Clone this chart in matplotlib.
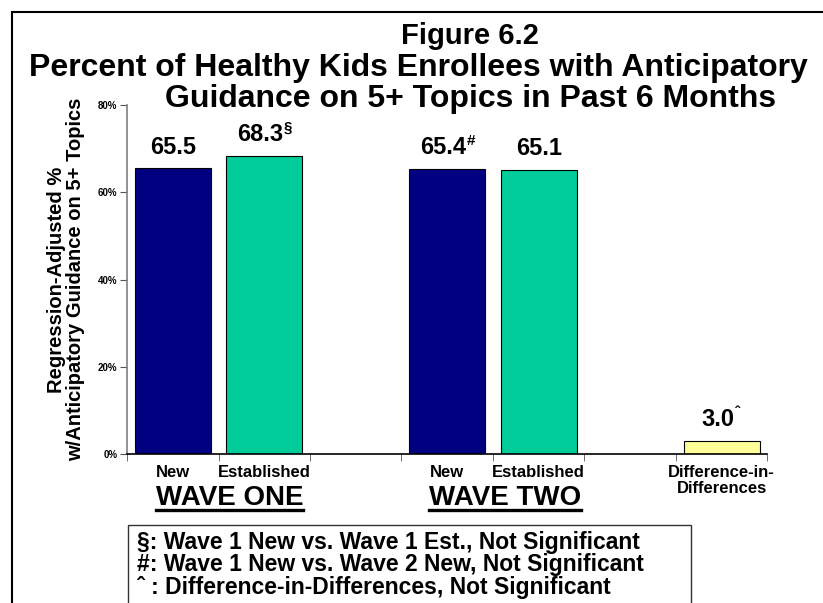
import matplotlib.pyplot as plt
from matplotlib.patches import Rectangle
from matplotlib.lines import Line2D
import numpy as np

plt.rcParams['font.family'] = ['Liberation Sans', 'DejaVu Sans']
plt.rcParams['font.weight'] = 'bold'

# data
categories = ['New', 'Established', '', 'New', 'Established', '', 'Difference-in-\nDifferences']
values = [65.5, 68.3, None, 65.4, 65.1, None, 3.0]
labels = ['65.5', '68.3', '', '65.4', '65.1', '', '3.0']
sups = ['', '\u00a7', '', '#', '', '', '\u02c6']
colors = ['#000080', '#00CC99', None, '#000080', '#00CC99', None, '#FFFF99']
yticks = [0, 20, 40, 60, 80]
groups = ['WAVE ONE', 'WAVE TWO']
notes = ['\u00a7: Wave 1 New vs. Wave 1 Est., Not Significant',
         '#: Wave 1 New vs. Wave 2 New, Not Significant',
         '\u02c6 : Difference-in-Differences, Not Significant']

W, H = 823, 603
fig = plt.figure(figsize=(W/100, H/100), dpi=100)
ax = fig.add_axes([127/W, 1-454/H, (767.5-127)/W, (454-105)/H])

x = np.arange(len(categories))
for i in range(len(categories)):
    if values[i] is None:
        continue
    ax.bar(x[i], values[i], width=0.83, color=colors[i], edgecolor='black', linewidth=0.8)
    # value label, nudged left when a superscript follows
    shift = -3 if sups[i] else 0
    t = ax.annotate(labels[i], (x[i], values[i]), xytext=(shift, 10.5), textcoords='offset points',
                    ha='center', va='baseline', fontsize=17, fontweight='bold')
    if sups[i]:
        ax.annotate(sups[i], xy=(1, 0), xycoords=t, xytext=(0.5, 10.5), textcoords='offset points',
                    ha='left', va='baseline', fontsize=11, fontweight='bold')

ax.set_xlim(-0.5, len(categories) - 0.5)
ax.set_ylim(0, 80)
ax.set_yticks(yticks)
ax.set_yticklabels([f'{v}%' for v in yticks], fontsize=7, fontweight='bold')
ax.set_xticks(x)
ax.set_xticklabels(categories, fontsize=12, fontweight='bold', linespacing=1.1)
ax.set_xticks(np.arange(-0.5, len(categories)), minor=True)
ax.tick_params(axis='x', which='major', length=0, pad=8)
ax.tick_params(axis='x', which='minor', length=5, direction='out', color='#555555')
ax.tick_params(axis='y', length=5, direction='out', color='#555555', pad=2)
ax.spines['top'].set_visible(False)
ax.spines['right'].set_visible(False)
ax.spines['left'].set_color('#808080')
ax.spines['left'].set_linewidth(1.2)
ax.spines['bottom'].set_linewidth(1.2)

ax.set_ylabel('Regression-Adjusted %\nw/Anticipatory Guidance on 5+ Topics', fontsize=14.5,
              fontweight='bold', labelpad=9, linespacing=1.0)

# titles
fig.text(470/W, 1-44/H, 'Figure 6.2', ha='center', va='baseline', fontsize=21, fontweight='bold')
fig.text(418/W, 1-76/H, 'Percent of Healthy Kids Enrollees with Anticipatory', ha='center',
         va='baseline', fontsize=23, fontweight='bold')
fig.text(471/W, 1-107/H, 'Guidance on 5+ Topics in Past 6 Months', ha='center', va='baseline',
         fontsize=23, fontweight='bold')

# wave group labels, underlined
gtexts = []
for gx, g in zip([0.62, 3.63], groups):
    gt = ax.text(gx, -(505-454)/349, g, transform=ax.get_xaxis_transform(), ha='center',
                 va='baseline', fontsize=20, fontweight='bold')
    gtexts.append(gt)

fig.canvas.draw()
r = fig.canvas.get_renderer()
for gt in gtexts:
    bb = gt.get_window_extent(r)
    fig.add_artist(Line2D([bb.x0/W, bb.x1/W], [1-509.5/H, 1-509.5/H], color='black', lw=2.4))

# notes box
fig.add_artist(Rectangle((128/W, -0.05), (691-128)/W, 0.05+1-525/H, transform=fig.transFigure,
                         fill=False, edgecolor='#333333', lw=1))
for k, n in enumerate(notes):
    fig.text(137/W, 1-(549+22.5*k)/H, n, ha='left', va='baseline', fontsize=16.5, fontweight='bold')

# outer frame
fig.add_artist(Rectangle((12/W, -0.05), 1.05, 0.05+1-12/H, transform=fig.transFigure,
                         fill=False, edgecolor='black', lw=1.5))

fig.savefig('out.png', dpi=100)
